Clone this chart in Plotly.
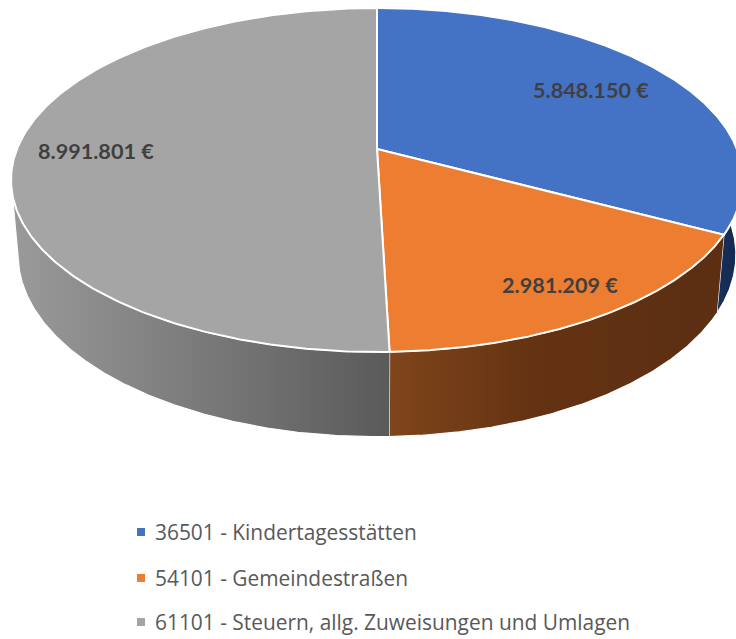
import numpy as np
import plotly.graph_objects as go

# --- data ---
categories = ["36501 - Kindertagesstätten", "54101 - Gemeindestraßen",
              "61101 - Steuern, allg. Zuweisungen und Umlagen"]
values = [5848150, 2981209, 8991801]
value_labels = ["5.848.150 €", "2.981.209 €", "8.991.801 €"]

# --- styles ---
top_colors = ["#4472C4", "#ED7D31", "#A5A5A5"]
side_scales = [
    [[0, "#1b3563"], [1, "#14294f"]],
    [[0, "#80451b"], [0.45, "#633212"], [1, "#5c2f12"]],
    [[0, "#9a9a9a"], [1, "#5a5a5a"]],
]
label_radius = [0.74, 0.84, 0.78]

# projection of the pie disc (pixel space of the axes)
CX, CY, RX, RY, K, DROP, EW = 377.0, 149.0, 360.0, 166.4, 0.18, 75.0, 0.019


def project(theta, r=1.0, lower=False):
    u, v = r * np.sin(theta), r * np.cos(theta)
    w = 1 + K * v + (EW if lower else 0)
    y = -RY * v + (DROP if lower else 0)
    return CX + RX * u / w, CY + y / w


fig = go.Figure()
fractions = np.array(values) / sum(values)
edges = np.concatenate([[0], np.cumsum(fractions)]) * 2 * np.pi

# side walls first
for i in range(3):
    a, b = max(edges[i], np.radians(70)), min(edges[i + 1], np.radians(255))
    th = np.linspace(a, b, 200)
    x1, y1 = project(th)
    x2, y2 = project(th[::-1], lower=True)
    fig.add_trace(go.Scatter(
        x=np.r_[x1, x2], y=np.r_[y1, y2], mode="lines", fill="toself",
        fillgradient=dict(type="horizontal", colorscale=side_scales[i]),
        line=dict(color="white", width=1.2), hoverinfo="skip", showlegend=False))

# top faces
for i in range(3):
    th = np.linspace(edges[i], edges[i + 1], 300)
    x, y = project(th)
    fig.add_trace(go.Scatter(
        x=np.r_[CX, x, CX], y=np.r_[CY, y, CY], mode="lines", fill="toself",
        fillcolor=top_colors[i], line=dict(color="white", width=2),
        hoverinfo="skip", showlegend=False))

# value labels
for i in range(3):
    mid = (edges[i] + edges[i + 1]) / 2
    lx, ly = project(np.array([mid]), r=label_radius[i])
    fig.add_annotation(x=lx[0], y=ly[0], text=value_labels[i], showarrow=False,
                       font=dict(family="Lato", size=21.6, color="#404040", weight="bold"))

# legend
legend_y = [532, 578, 622]
fig.add_trace(go.Scatter(
    x=[141, 141, 141], y=legend_y, mode="markers",
    marker=dict(symbol="square", size=8, color=top_colors, line=dict(width=0)),
    hoverinfo="skip", showlegend=False))
for name, ly in zip(categories, legend_y):
    fig.add_annotation(x=153, y=ly, text=name, showarrow=False, xanchor="left",
                       font=dict(family="Open Sans", size=20.9, color="#595959"))

fig.update_xaxes(range=[0, 736], visible=False, fixedrange=True)
fig.update_yaxes(range=[639, 0], visible=False, fixedrange=True)
fig.update_layout(width=736, height=639, margin=dict(l=0, r=0, t=0, b=0),
                  paper_bgcolor="white", plot_bgcolor="white", showlegend=False)
fig.write_html("out.html", config={"displayModeBar": False},
               post_script="document.body.style.margin='0';document.documentElement.style.overflow='hidden';")
